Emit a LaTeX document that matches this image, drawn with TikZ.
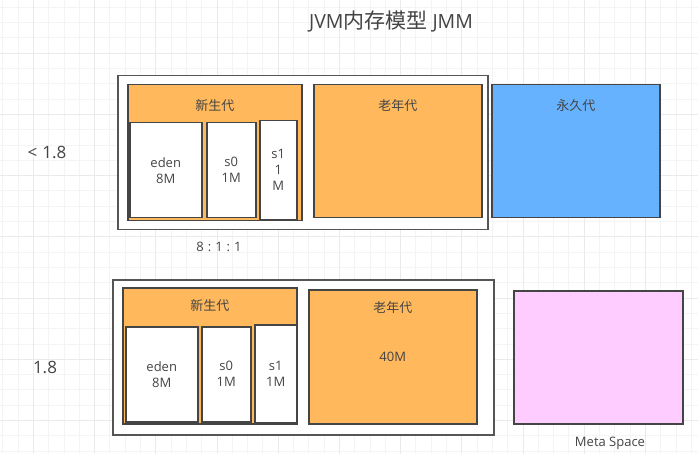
\documentclass[tikz,border=0pt]{standalone}
\usepackage{fontspec}
\setmainfont{Open Sans}
\newfontfamily\cjk{Noto Sans CJK SC}
\definecolor{gridminor}{HTML}{F4F4F4}
\definecolor{gridmajor}{HTML}{EAEAEA}
\definecolor{boxline}{HTML}{454545}
\definecolor{outerline}{HTML}{555555}
\definecolor{txt}{HTML}{444444}
\definecolor{orangefill}{HTML}{FFB95C}
\definecolor{bluefill}{HTML}{66B2FF}
\definecolor{pinkfill}{HTML}{FFCCFF}
\begin{document}
\begin{tikzpicture}[x=1pt,y=-1pt,
  gminor/.style={draw=gridminor,line width=0.8pt},
  gmajor/.style={draw=gridmajor,line width=0.8pt},
  box/.style={draw=boxline,line width=1.5pt,anchor=north west,inner sep=0pt,
    text=txt,font=\fontsize{13}{16}\selectfont,align=center},
  outerbox/.style={draw=outerline,line width=1.5pt,fill=white,anchor=north west,inner sep=0pt},
  lbl/.style={text=txt,font=\fontsize{13}{15}\selectfont,inner sep=0pt},
  cjklbl/.style={text=txt,font=\cjk\fontsize{13}{15}\selectfont,inner sep=0pt},
  biglbl/.style={text=txt,font=\fontsize{17}{20}\selectfont,inner sep=0pt}]
\useasboundingbox (0,0) rectangle (698,454);
\fill[white] (0,0) rectangle (698,454);
% background grid
\foreach \k in {0,...,45} \draw[gminor] ({2.7+15.3*\k},0) -- ({2.7+15.3*\k},454);
\foreach \k in {0,...,29} \draw[gminor] (0,{7.3+15.3*\k}) -- (698,{7.3+15.3*\k});
\foreach \k in {2,6,...,42} \draw[gmajor] ({2.7+15.3*\k},0) -- ({2.7+15.3*\k},454);
\foreach \k in {3,7,...,27} \draw[gmajor] (0,{7.3+15.3*\k}) -- (698,{7.3+15.3*\k});

% title
\node[text=txt,font=\fontsize{19.5}{22}\selectfont,inner sep=0pt] (title) at (391,22) {JVM{\cjk\fontsize{21}{22}\selectfont 内存模型} JMM};

% < 1.8 row
\node[biglbl] (v17) at (47,152) {<\hspace{5pt}1.8};
\node[outerbox,minimum width=370pt,minimum height=154pt] (outer1) at (117,75) {};
\node[box,fill=orangefill,minimum width=174pt,minimum height=136pt] (young1) at (127,84) {};
\node[cjklbl] (young1l) at ([yshift=-22pt]young1.north) {新生代};
\node[box,fill=white,minimum width=72pt,minimum height=95pt] (eden1) at (129,122) {eden\\8M};
\node[box,fill=white,minimum width=49pt,minimum height=95pt] (s0a) at (206,122) {s0\\1M};
\node[box,fill=white,minimum width=37pt,minimum height=99pt] (s1a) at (259,120) {s1\\1\\M};
\node[box,fill=orangefill,minimum width=168pt,minimum height=133pt] (old1) at (313,84) {};
\node[cjklbl] (old1l) at ([yshift=-22pt]old1.north) {老年代};
\node[box,fill=bluefill,minimum width=168pt,minimum height=133pt] (perm) at (491,84) {};
\node[cjklbl] (perml) at ([yshift=-22pt]perm.north) {永久代};
\node[lbl] (ratio) at (219,247) {8\hspace{4pt}:\hspace{4pt}1\hspace{4pt}:\hspace{4pt}1};

% 1.8 row
\node[biglbl] (v18) at (45,367) {1.8};
\node[outerbox,minimum width=381pt,minimum height=155pt] (outer2) at (112,279) {};
\node[box,fill=orangefill,minimum width=174pt,minimum height=136pt] (young2) at (122,287) {};
\node[cjklbl] (young2l) at ([yshift=-19pt]young2.north) {新生代};
\node[box,fill=white,minimum width=72pt,minimum height=95pt] (eden2) at (125,326) {eden\\8M};
\node[box,fill=white,minimum width=49pt,minimum height=95pt] (s0b) at (201,326) {s0\\1M};
\node[box,fill=white,minimum width=42pt,minimum height=98pt] (s1b) at (254,324) {s1\\1M};
\node[box,fill=orangefill,minimum width=168pt,minimum height=134pt] (old2) at (308,289) {40M};
\node[cjklbl] (old2l) at ([yshift=-19pt]old2.north) {老年代};
\node[box,fill=pinkfill,minimum width=169pt,minimum height=133pt] (meta) at (513,290) {};
\node[lbl] (metal) at (610,443) {Meta Space};
\end{tikzpicture}
\end{document}
